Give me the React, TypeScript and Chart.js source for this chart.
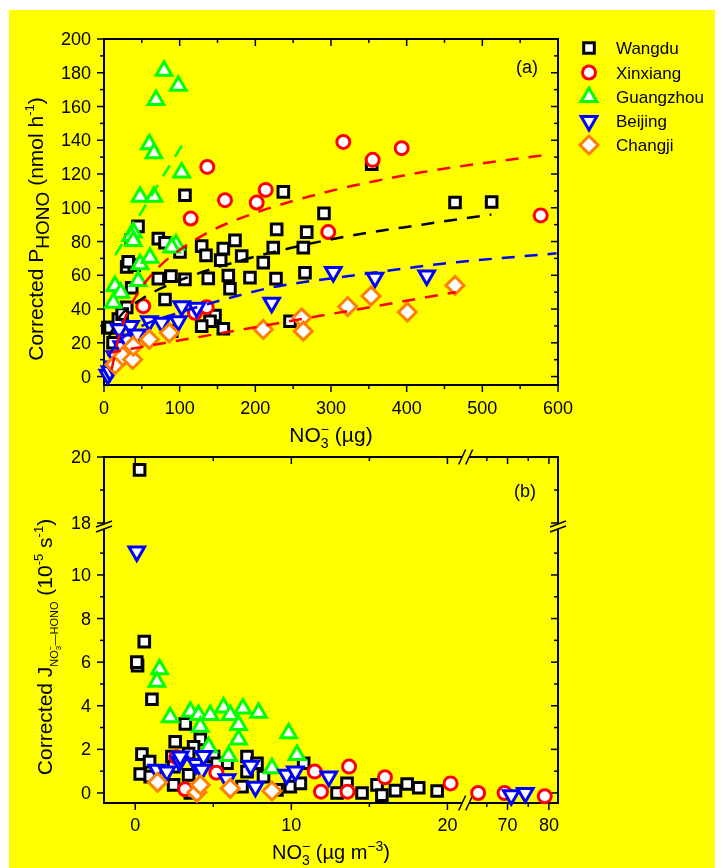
import React, { useEffect, useRef } from "react";
import { Chart, registerables } from "chart.js";
Chart.register(...registerables);

const FONT = '"Liberation Sans", Arial, Helvetica, sans-serif';

// ---------- Panel (a) data: NO3- (ug) vs corrected P_HONO ----------
const wangduA: [number, number][] = [
  [5, 29], [8, 29], [19, 34], [30, 41], [24, 37], [30, 65], [40, 66], [45, 89], [36, 81], [36.6, 52.6],
  [71.8, 81.7], [80.6, 79.3], [107, 107.4], [100.4, 73.8], [129.1, 77.3], [134.8, 71.8], [157.7, 75.8],
  [173.1, 80.7], [182, 71.4], [154.2, 69], [164.3, 59.9], [166.5, 52], [192.9, 58.6], [228.2, 87.2],
  [227.3, 58], [223.7, 76.4], [210.5, 67.5], [237, 109.4], [263.4, 76.4], [267.9, 85.6], [265.6, 61.5],
  [290.7, 96.7], [137.8, 58.2], [107, 57.6], [88.5, 59.5], [71.8, 58], [80.6, 45.7], [146.7, 36.2],
  [140.1, 32.8], [129.1, 29.9], [157.7, 28.3], [245.8, 32.8], [89.5, 26.9], [353.8, 125.8],
  [463.9, 103.1], [512.3, 103.4], [32, 68], [12, 20],
];
const xinxiangA: [number, number][] = [
  [136.5, 124.2], [159.9, 104.5], [114.6, 93.6], [213.7, 110.6], [201.8, 103.1], [316.3, 139],
  [355.1, 128.4], [393.4, 135.3], [577.1, 95.5], [296.4, 85.6], [51.9, 41.7], [120.3, 37.8], [135.7, 41.1],
];
const guangzhouA: [number, number][] = [
  [79.3, 181.2], [98.2, 172.3], [68.7, 163.8], [59.9, 137.7], [66, 132.3], [102.6, 120.9], [47.6, 106.6],
  [66, 106.6], [38.7, 85.3], [35.3, 83.3], [38.7, 80.3], [95.2, 78.3], [89.5, 76.4], [47.6, 66.5],
  [60.8, 70.4], [45.3, 56.6], [14.5, 53.6], [22.1, 49.7], [12.3, 43.7],
];
const beijingA: [number, number][] = [
  [5, 1], [7.9, 3.1], [12, 6], [14.5, 12], [23.4, 18], [20, 28], [30, 22], [35, 30], [44, 24.9],
  [59.9, 32.8], [76.3, 31.9], [98.2, 32.8], [102.7, 41.7], [122.5, 40.8], [221.6, 43.7], [303, 61.9],
  [358.1, 58.6], [426.5, 59.9],
];
const changjiA: [number, number][] = [
  [14.5, 7.1], [25, 12], [37.9, 10.1], [38.7, 18], [59.9, 22], [86.3, 25.9], [210.5, 27.9], [261.3, 34.8],
  [263.4, 26.9], [322, 41.5], [352.9, 47.7], [400.9, 38.2], [463.9, 54],
];
// fitted curves
const fitXinxiang: [number, number][] = [
  [10, 4], [20, 24], [30, 37], [50, 53], [75, 66], [100, 75], [140, 86], [200, 97], [300, 110], [420, 121], [578, 131],
];
const fitWangdu: [number, number][] = [
  [5, 22], [20, 35], [50, 46], [100, 57], [175, 68], [245, 76], [320, 83], [420, 90], [512, 96],
];
const fitBeijing: [number, number][] = [
  [5, 12], [20, 21], [50, 30], [100, 38], [153, 45], [224, 53], [332, 60], [450, 67], [598, 73],
];
const fitGuangzhou: [number, number][] = [[15, 72], [103, 137]];
const fitChangji: [number, number][] = [[5, 14], [465, 50]];

const aXTicks = [0, 100, 200, 300, 400, 500, 600];
const aXMinor = [50, 150, 250, 350, 450, 550];
const aYTicks = [0, 20, 40, 60, 80, 100, 120, 140, 160, 180, 200];
const aYMinor = [10, 30, 50, 70, 90, 110, 130, 150, 170, 190];

// ---------- Panel (b) data: NO3- (ug m-3) vs corrected J ----------
const wangduB: [number, number][] = [
  [0.28, 19.61], [0.58, 6.94], [0.15, 5.84], [0.1, 6.0], [1.07, 4.3], [3.21, 3.17], [2.56, 2.35], [4.17, 2.46],
  [0.43, 1.78], [0.32, 0.87], [0.92, 1.44], [3.74, 2.12], [3.42, 1.81], [2.35, 1.67], [2.46, 1.21],
  [3.42, 0.83], [2.46, 0.37], [3.53, 0.0], [0.96, 0.75], [5.88, 1.36], [6.84, 0.29], [7.16, 1.67],
  [7.8, 1.36], [7.16, 0.98], [8.22, 0.75], [9.08, 0.14], [9.94, 0.29], [10.58, 0.44], [10.79, 1.36],
  [5.02, 1.67], [5.24, 1.36], [12.93, 0.0], [13.57, 0.44], [14.53, 0.0], [15.49, 0.37], [15.8, -0.1],
  [16.67, 0.11], [17.42, 0.41], [18.16, 0.24], [19.34, 0.09],
];
const xinxiangB: [number, number][] = [
  [2.63, 1.64], [3.2, 0.17], [5.2, 0.93], [11.5, 0.98], [11.9, 0.06], [13.7, 1.21], [13.6, 0.06],
  [16.0, 0.72], [20.2, 0.44], [62.9, 0.0], [69.3, 0.0], [79, -0.15],
];
const guangzhouB: [number, number][] = [
  [1.56, 5.67], [1.39, 5.1], [2.24, 3.47], [3.53, 3.73], [4.06, 3.58], [4.8, 3.58], [4.17, 3.04],
  [5.66, 3.92], [6.09, 3.58], [6.9, 3.88], [7.9, 3.68], [6.62, 3.12], [6.62, 2.45], [4.7, 2.1],
  [5.98, 1.7], [8.76, 1.13], [9.83, 2.74], [10.36, 1.74],
];
const beijingB: [number, number][] = [
  [0.1, 11.07], [1.39, 1.06], [2.03, 0.98], [2.84, 1.44], [2.88, 1.67], [3.9, 1.33], [4.38, 1.7],
  [4.27, 1.06], [5.88, 0.63], [7.4, 1.25], [7.7, 0.29], [9.7, 0.83], [10.26, 0.98], [12.4, 0.75],
  [70.9, -0.1], [74.3, 0.0],
];
const changjiB: [number, number][] = [
  [1.43, 0.49], [3.95, 0.03], [4.17, 0.37], [6.09, 0.21], [8.76, 0.09],
];

const bXTicks = [0, 10, 20, 70, 80];
const bXMinor = [5, 15, 65, 75];
const bYTicks = [0, 2, 4, 6, 8, 10, 18, 20];
const bYMinor = [1, 3, 5, 7, 9, 11, 19];

// broken-axis transforms for panel (b)
const BX_BREAK = 21.2, BX_RESUME = 60, BX_RATIO = 0.265;
const BY_BREAK = 12.2, BY_RESUME = 17.88, BY_RATIO = 1.514;
const bx = (v: number) => (v <= BX_BREAK ? v : BX_BREAK + (v - BX_RESUME) * BX_RATIO);
const by = (v: number) => (v <= BY_BREAK ? v : BY_BREAK + (v - BY_RESUME) * BY_RATIO);

type Seg = { t: string; s: number; dy?: number; stack?: boolean };

function drawRich(ctx: CanvasRenderingContext2D, segs: Seg[], x: number, y: number, rotate: boolean) {
  const placed: { g: Seg; x: number }[] = [];
  let cx = 0;
  let stackW = -1;
  for (const g of segs) {
    ctx.font = `${g.s}px ${FONT}`;
    const m = ctx.measureText(g.t).width;
    placed.push({ g, x: cx });
    if (g.stack) stackW = m;
    else {
      cx += stackW >= 0 ? Math.max(m, stackW) : m;
      stackW = -1;
    }
  }
  ctx.save();
  ctx.translate(x, y);
  if (rotate) ctx.rotate(-Math.PI / 2);
  ctx.fillStyle = "#000";
  ctx.textAlign = "left";
  ctx.textBaseline = "alphabetic";
  for (const p of placed) {
    ctx.font = `${p.g.s}px ${FONT}`;
    ctx.fillText(p.g.t, p.x - cx / 2, p.g.dy || 0);
  }
  ctx.restore();
}

function line(ctx: CanvasRenderingContext2D, x1: number, y1: number, x2: number, y2: number) {
  ctx.beginPath();
  ctx.moveTo(x1, y1);
  ctx.lineTo(x2, y2);
  ctx.stroke();
}

type Shape = "rect" | "circle" | "triangle" | "tridown" | "rectRot";
function marker(ctx: CanvasRenderingContext2D, shape: Shape, x: number, y: number, r: number, color: string) {
  ctx.save();
  ctx.strokeStyle = color;
  ctx.fillStyle = "#fff";
  ctx.lineWidth = 3;
  ctx.beginPath();
  if (shape === "rect") {
    const s = Math.SQRT1_2 * r;
    ctx.rect(x - s, y - s, 2 * s, 2 * s);
  } else if (shape === "circle") {
    ctx.arc(x, y, r, 0, Math.PI * 2);
  } else if (shape === "triangle" || shape === "tridown") {
    let rad = shape === "tridown" ? Math.PI : 0;
    ctx.moveTo(x + Math.sin(rad) * r, y - Math.cos(rad) * r);
    rad += (2 * Math.PI) / 3;
    ctx.lineTo(x + Math.sin(rad) * r, y - Math.cos(rad) * r);
    rad += (2 * Math.PI) / 3;
    ctx.lineTo(x + Math.sin(rad) * r, y - Math.cos(rad) * r);
    ctx.closePath();
  } else {
    ctx.moveTo(x, y - r);
    ctx.lineTo(x + r, y);
    ctx.lineTo(x, y + r);
    ctx.lineTo(x - r, y);
    ctx.closePath();
  }
  ctx.fill();
  ctx.stroke();
  ctx.restore();
}

const SERIES = [
  { name: "Wangdu", color: "#000000", shape: "rect" as Shape, r: 7.5, order: 4 },
  { name: "Xinxiang", color: "#ff0000", shape: "circle" as Shape, r: 6.5, order: 3 },
  { name: "Guangzhou", color: "#00ff00", shape: "triangle" as Shape, r: 9, order: 2 },
  { name: "Beijing", color: "#0000ff", shape: "tridown" as Shape, r: 9, order: 1 },
  { name: "Changji", color: "#ff8000", shape: "rectRot" as Shape, r: 9, order: 0 },
];

function scatterSet(idx: number, data: { x: number; y: number }[]) {
  const s = SERIES[idx];
  const style = s.shape === "tridown" ? "triangle" : s.shape;
  return {
    type: "scatter" as const,
    label: s.name,
    data,
    order: s.order,
    pointStyle: style,
    pointRotation: s.shape === "tridown" ? 180 : 0,
    pointRadius: s.r,
    pointBorderWidth: 3,
    pointBorderColor: s.color,
    pointBackgroundColor: "#ffffff",
    borderColor: s.color,
    backgroundColor: "#ffffff",
    showLine: false,
    clip: false as const,
  };
}

function fitSet(pts: [number, number][], color: string) {
  return {
    type: "line" as const,
    label: "",
    data: pts.map(([x, y]) => ({ x, y })),
    order: -1,
    borderColor: color,
    borderWidth: 2.5,
    borderDash: [13, 10],
    pointRadius: 0,
    fill: false,
    tension: 0.4,
    cubicInterpolationMode: "monotone" as const,
    showLine: true,
  };
}

const pairs = (d: [number, number][]) => d.map(([x, y]) => ({ x, y }));
const pairsB = (d: [number, number][]) => d.map(([x, y]) => ({ x: bx(x), y: by(y) }));

const panelAPlugin = {
  id: "panelA",
  beforeDatasetsDraw(chart: any) {
    const { ctx, chartArea: a, scales } = chart;
    const x = scales.x, y = scales.y;
    ctx.save();
    ctx.strokeStyle = "#000";
    ctx.lineWidth = 2;
    ctx.strokeRect(a.left, a.top, a.right - a.left, a.bottom - a.top);
    ctx.lineWidth = 1.5;
    for (const v of aXTicks) {
      const p = x.getPixelForValue(v);
      line(ctx, p, a.bottom, p, a.bottom + 7);
      line(ctx, p, a.top, p, a.top + 7);
    }
    for (const v of aXMinor) {
      const p = x.getPixelForValue(v);
      line(ctx, p, a.bottom, p, a.bottom + 4);
      line(ctx, p, a.top, p, a.top + 4);
    }
    for (const v of aYTicks) {
      const p = y.getPixelForValue(v);
      line(ctx, a.left - 7, p, a.left, p);
      line(ctx, a.right - 7, p, a.right, p);
    }
    for (const v of aYMinor) {
      const p = y.getPixelForValue(v);
      line(ctx, a.left - 4, p, a.left, p);
      line(ctx, a.right - 4, p, a.right, p);
    }
    ctx.fillStyle = "#000";
    ctx.font = `18px ${FONT}`;
    ctx.textAlign = "center";
    ctx.textBaseline = "alphabetic";
    for (const v of aXTicks) ctx.fillText(String(v), x.getPixelForValue(v), a.bottom + 29);
    ctx.textAlign = "right";
    for (const v of aYTicks) ctx.fillText(String(v), a.left - 13, y.getPixelForValue(v) + 6);
    ctx.restore();
  },
  afterDraw(chart: any) {
    const { ctx, chartArea: a } = chart;
    ctx.save();
    // legend
    const rows = [48, 72.5, 97, 121, 145];
    SERIES.forEach((s, i) => {
      const cy = rows[i] - 10;
      marker(ctx, s.shape, 580, cy, s.r, s.color);
      ctx.fillStyle = "#000";
      ctx.font = `17px ${FONT}`;
      ctx.textAlign = "left";
      ctx.textBaseline = "alphabetic";
      ctx.fillText(s.name, 607, cy + 6);
    });
    ctx.font = `18px ${FONT}`;
    ctx.textAlign = "center";
    ctx.fillText("(a)", a.right - 31, a.top + 34);
    ctx.restore();
    drawRich(
      ctx,
      [
        { t: "Corrected P", s: 21 },
        { t: "HONO", s: 19, dy: 6 },
        { t: " (nmol h", s: 21 },
        { t: "-1", s: 13, dy: -9 },
        { t: ")", s: 21 },
      ],
      43 - 9,
      229 - 10,
      true
    );
    drawRich(
      ctx,
      [
        { t: "NO", s: 21 },
        { t: "3", s: 14, dy: 6, stack: true },
        { t: "\u2212", s: 14, dy: -8 },
        { t: " (\u00b5g)", s: 21 },
      ],
      (a.left + a.right) / 2,
      a.bottom + 57,
      false
    );
  },
};

const panelBPlugin = {
  id: "panelB",
  beforeDatasetsDraw(chart: any) {
    const { ctx, chartArea: a, scales } = chart;
    const x = scales.x, y = scales.y;
    const xb = x.getPixelForValue(BX_BREAK);
    const yb = y.getPixelForValue(BY_BREAK);
    ctx.save();
    ctx.strokeStyle = "#000";
    ctx.lineWidth = 2;
    // frame with gaps at the breaks
    line(ctx, a.left, a.bottom, xb - 4, a.bottom);
    line(ctx, xb + 3, a.bottom, a.right, a.bottom);
    line(ctx, a.left, a.top, xb - 4, a.top);
    line(ctx, xb + 3, a.top, a.right, a.top);
    line(ctx, a.left, a.top - 1, a.left, yb - 3);
    line(ctx, a.left, yb + 2, a.left, a.bottom + 1);
    line(ctx, a.right, a.top - 1, a.right, yb - 3);
    line(ctx, a.right, yb + 2, a.right, a.bottom + 1);
    ctx.lineWidth = 1.5;
    // break marks
    for (const yy of [a.bottom, a.top]) {
      for (const c of [xb - 4, xb + 3]) line(ctx, c - 3.5, yy + 7.5, c + 3.5, yy - 7.5);
    }
    for (const xx of [a.left, a.right]) {
      for (const c of [yb - 3, yb + 2]) line(ctx, xx - 8, c + 3, xx + 8, c - 3);
    }
    for (const v of bXTicks) {
      const p = x.getPixelForValue(bx(v));
      line(ctx, p, a.bottom, p, a.bottom + 7);
      line(ctx, p, a.top, p, a.top + 7);
    }
    for (const v of bXMinor) {
      const p = x.getPixelForValue(bx(v));
      line(ctx, p, a.bottom, p, a.bottom + 4);
      line(ctx, p, a.top, p, a.top + 4);
    }
    for (const v of bYTicks) {
      const p = y.getPixelForValue(by(v));
      line(ctx, a.left - 7, p, a.left, p);
      line(ctx, a.right - 7, p, a.right, p);
    }
    for (const v of bYMinor) {
      const p = y.getPixelForValue(by(v));
      line(ctx, a.left - 4, p, a.left, p);
      line(ctx, a.right - 4, p, a.right, p);
    }
    ctx.fillStyle = "#000";
    ctx.font = `18px ${FONT}`;
    ctx.textAlign = "center";
    ctx.textBaseline = "alphabetic";
    for (const v of bXTicks) ctx.fillText(String(v), x.getPixelForValue(bx(v)), a.bottom + 28);
    ctx.textAlign = "right";
    for (const v of bYTicks) ctx.fillText(String(v), a.left - 13, y.getPixelForValue(by(v)) + 6);
    ctx.restore();
  },
  afterDraw(chart: any) {
    const { ctx, chartArea: a } = chart;
    ctx.save();
    ctx.fillStyle = "#000";
    ctx.font = `18px ${FONT}`;
    ctx.textAlign = "center";
    ctx.fillText("(b)", a.right - 33, a.top + 40);
    ctx.restore();
    drawRich(
      ctx,
      [
        { t: "Corrected J", s: 21 },
        { t: "NO", s: 11, dy: 6 },
        { t: "3", s: 8, dy: 9, stack: true },
        { t: "\u2212", s: 8, dy: 1 },
        { t: "\u2014HONO", s: 11, dy: 6 },
        { t: " (10", s: 21 },
        { t: "-5", s: 13, dy: -9 },
        { t: " s", s: 21 },
        { t: "-1", s: 13, dy: -9 },
        { t: ")", s: 21 },
      ],
      52 - 9,
      647 - 440,
      true
    );
    drawRich(
      ctx,
      [
        { t: "NO", s: 20 },
        { t: "3", s: 14, dy: 6, stack: true },
        { t: "\u2212", s: 14, dy: -8 },
        { t: " (\u00b5g m", s: 20 },
        { t: "\u22123", s: 14, dy: -8 },
        { t: ")", s: 20 },
      ],
      (a.left + a.right) / 2,
      a.bottom + 56,
      false
    );
  },
};

function baseOptions(xmin: number, xmax: number, ymin: number, ymax: number, pad: any) {
  return {
    animation: false as const,
    responsive: false,
    maintainAspectRatio: false,
    events: [] as any[],
    layout: { padding: pad },
    plugins: { legend: { display: false }, tooltip: { enabled: false }, title: { display: false } },
    scales: {
      x: { type: "linear" as const, display: false, min: xmin, max: xmax },
      y: { type: "linear" as const, display: false, min: ymin, max: ymax },
    },
  };
}

export default function App() {
  const refA = useRef<HTMLCanvasElement>(null);
  const refB = useRef<HTMLCanvasElement>(null);
  useEffect(() => {
    const ca = new Chart(refA.current!, {
      type: "scatter",
      data: {
        datasets: [
          scatterSet(0, pairs(wangduA)),
          scatterSet(1, pairs(xinxiangA)),
          scatterSet(2, pairs(guangzhouA)),
          scatterSet(3, pairs(beijingA)),
          scatterSet(4, pairs(changjiA)),
          fitSet(fitXinxiang, "#ff0000"),
          fitSet(fitWangdu, "#000000"),
          fitSet(fitBeijing, "#0000ff"),
          fitSet(fitGuangzhou, "#00ff00"),
          fitSet(fitChangji, "#ff0000"),
        ] as any,
      },
      options: baseOptions(0, 600, -5, 200, { left: 95, top: 29, right: 165, bottom: 75 }) as any,
      plugins: [panelAPlugin],
    });
    const cb = new Chart(refB.current!, {
      type: "scatter",
      data: {
        datasets: [
          scatterSet(0, pairsB(wangduB)),
          scatterSet(1, pairsB(xinxiangB)),
          scatterSet(2, pairsB(guangzhouB)),
          scatterSet(3, pairsB(beijingB)),
          scatterSet(4, pairsB(changjiB)),
        ] as any,
      },
      options: baseOptions(-2, bx(82.2), -0.46, by(20), { left: 95, top: 17, right: 165, bottom: 65 }) as any,
      plugins: [panelBPlugin],
    });
    return () => {
      ca.destroy();
      cb.destroy();
    };
  }, []);
  return (
    <div style={{ position: "relative", width: 714, height: 858, background: "#ffff00", margin: "2px 0 0 1px" }}>
      <canvas ref={refA} width={714} height={450} style={{ position: "absolute", left: 0, top: 0 }} />
      <canvas ref={refB} width={714} height={428} style={{ position: "absolute", left: 0, top: 430 }} />
    </div>
  );
}
